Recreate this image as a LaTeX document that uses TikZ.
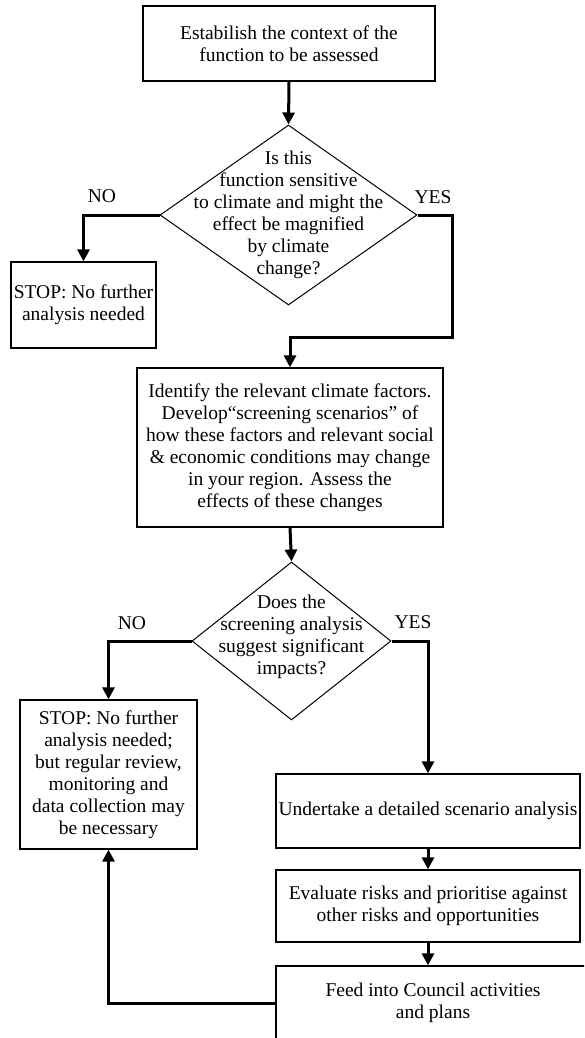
\documentclass[tikz,border=0pt]{standalone}
\usepackage{fontspec}
\setmainfont{Liberation Serif}
\usetikzlibrary{shapes.geometric,arrows.meta}
\begin{document}
\begin{tikzpicture}[x=1pt,y=-1pt,
  every node/.style={font=\fontsize{19.5}{22}\selectfont},
  box/.style={draw,line width=1.3pt,rectangle,inner sep=1pt,align=center},
  decision/.style={draw,line width=1pt,diamond,inner sep=0pt},
  conn/.style={line width=3pt,-{Triangle[length=12pt,width=12pt]},line join=miter},
  answer/.style={inner sep=0pt}]
\useasboundingbox (0,0) rectangle (584,1038);
\clip (0,0) rectangle (584,1038);

% process boxes
\node[box,minimum width=292pt,minimum height=75pt] (b1) at (289,43.5)
  {Estabilish the context of the\\function to be assessed};
\node[box,minimum width=145pt,minimum height=86pt] (s1) at (83.5,305)
  {STOP: No further\\analysis needed};
\node[box,minimum width=306pt,minimum height=159pt] (b3) at (290,447.5)
  {Identify the relevant climate factors.\\Develop“screening scenarios” of\\how these factors and relevant social\\\& economic conditions may change\\in your region. Assess the\\effects of these changes};
\node[box,minimum width=177pt,minimum height=149pt] (s2) at (108.5,774.5)
  {STOP: No further\\analysis needed;\\but regular review,\\monitoring and\\data collection may\\be necessary};
\node[box,minimum width=304pt,minimum height=74pt] (b4) at (428,811)
  {Undertake a detailed scenario analysis};
\node[box,minimum width=304pt,minimum height=72pt] (b5) at (428,906)
  {Evaluate risks and prioritise against\\other risks and opportunities};
\node[box,minimum width=314pt,minimum height=74pt] (b6) at (433,1003)
  {Feed into Council activities\\and plans};

% decisions
\node[decision,minimum width=257pt,minimum height=180pt,
  label={[align=center]center:{Is this\\function sensitive\\to climate and might the\\effect be magnified\\by climate\\change?}}]
  (d1) at (288.5,215) {};
\node[decision,minimum width=199pt,minimum height=158pt,
  label={[align=center,yshift=4pt]center:{Does the\\screening analysis\\suggest significant\\impacts?}}]
  (d2) at (291.5,641) {};

% answer labels
\node[answer] (no1) at (102,196) {NO};
\node[answer] (yes1) at (433,197) {YES};
\node[answer] (no2) at (132,623) {NO};
\node[answer] (yes2) at (413,622) {YES};

% routing point of the first YES branch
\coordinate (yesturn) at (452,337);

% connectors
\draw[conn] (b1.south) -- (d1.north);
\draw[conn] (d1.west) -| (s1.north);
\draw[conn] (d1.east) -| (yesturn) -| (b3.north);
\draw[conn] (b3.south) -- (d2.north);
\draw[conn] (d2.west) -| (s2.north);
\draw[conn] (d2.east) -| (b4.north);
\draw[conn] (b4.south) -- (b5.north);
\draw[conn] (b5.south) -- (b5.south |- b6.north);
\draw[conn] (b6.west) -| (s2.south);
\end{tikzpicture}
\end{document}
